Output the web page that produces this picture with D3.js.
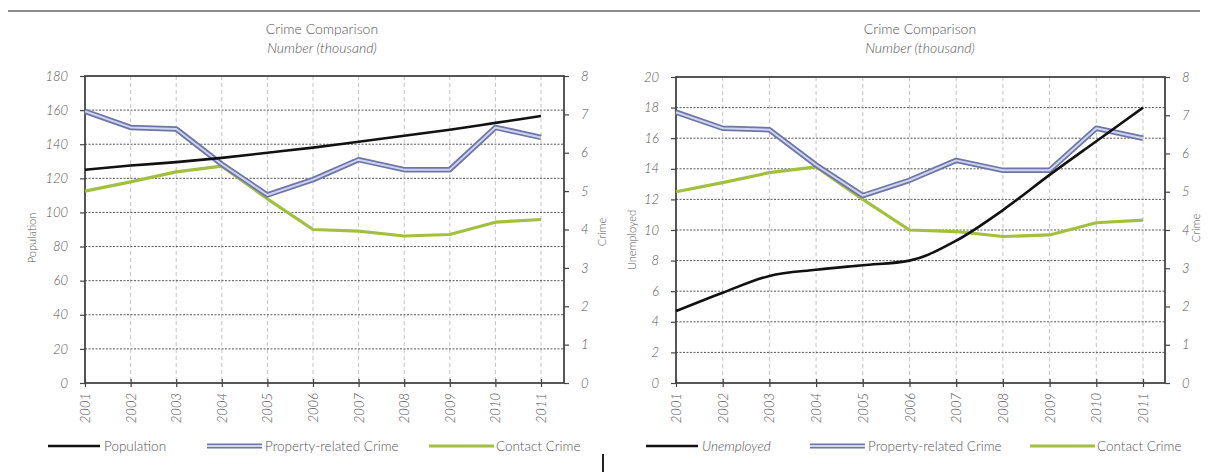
<!DOCTYPE html>
<html>
<head>
<meta charset="utf-8">
<script src="https://cdn.jsdelivr.net/npm/d3@7"></script>
<style>
  body { margin: 0; background: #fff; }
  svg text { font-family: Lato, "Open Sans", sans-serif; fill: #555; font-weight: 300; }
</style>
</head>
<body>
<div id="chart"></div>
<script>
// data (thousand)
var years = [2001, 2002, 2003, 2004, 2005, 2006, 2007, 2008, 2009, 2010, 2011];
var population = [125, 127.5, 129.5, 132, 135, 138, 141.5, 145, 148.5, 152.5, 156.5];
var unemployed = [4.7, 5.9, 7.0, 7.4, 7.7, 8.0, 9.3, 11.3, 13.6, 15.8, 18.0];
var propertyCrime = [7.08, 6.66, 6.62, 5.7, 4.9, 5.3, 5.82, 5.56, 5.56, 6.66, 6.4];
var contactCrime = [5.0, 5.24, 5.5, 5.65, 4.8, 4.0, 3.96, 3.83, 3.87, 4.19, 4.26];
var crimeTicks = [0, 1, 2, 3, 4, 5, 6, 7, 8];
var populationTicks = [0, 20, 40, 60, 80, 100, 120, 140, 160, 180];
var unemployedTicks = [0, 2, 4, 6, 8, 10, 12, 14, 16, 18, 20];

var W = 1208, H = 472;
var svg = d3.select("#chart").append("svg")
    .attr("width", W)
    .attr("height", H);

// top rule and bottom separator
svg.append("line").attr("x1", 8).attr("x2", 1200).attr("y1", 11).attr("y2", 11)
    .attr("stroke", "#8a8a8a").attr("stroke-width", 2);
svg.append("line").attr("x1", 603).attr("x2", 603).attr("y1", 454).attr("y2", 472)
    .attr("stroke", "#222").attr("stroke-width", 2);

function drawChart(cfg) {
  var g = svg.append("g");
  var x = d3.scaleLinear().domain([2001, 2011]).range([cfg.left, cfg.lastX]);
  var yL = d3.scaleLinear().domain([0, cfg.leftMax]).range([cfg.bottom, cfg.top]);
  var yR = d3.scaleLinear().domain([0, 8]).range([cfg.bottom, cfg.top]);

  // titles
  g.append("text").attr("x", cfg.titleX).attr("y", 34).attr("text-anchor", "middle")
    .style("font-size", "14px").text("Crime Comparison");
  g.append("text").attr("x", cfg.titleX).attr("y", 53).attr("text-anchor", "middle")
    .style("font-size", "14px").style("font-style", "italic").text("Number (thousand)");

  // vertical grid
  g.selectAll(".vgrid").data(years.slice(1)).enter().append("line")
    .attr("x1", d => x(d)).attr("x2", d => x(d))
    .attr("y1", cfg.top).attr("y2", cfg.bottom)
    .attr("stroke", "#c4c4c4").attr("stroke-dasharray", "4,3");

  // horizontal grid
  g.selectAll(".hgrid").data(cfg.leftTicks.slice(1, -1)).enter().append("line")
    .attr("x1", cfg.left).attr("x2", cfg.right)
    .attr("y1", d => yL(d)).attr("y2", d => yL(d))
    .attr("stroke", "#555").attr("stroke-dasharray", "2,1.5");

  // frame
  g.append("rect").attr("x", cfg.left).attr("y", cfg.top)
    .attr("width", cfg.right - cfg.left).attr("height", cfg.bottom - cfg.top)
    .attr("fill", "none").attr("stroke", "#444").attr("stroke-width", 1.8);

  // left axis
  var la = g.append("g").attr("transform", "translate(" + cfg.left + ",0)")
    .call(d3.axisLeft(yL).tickValues(cfg.leftTicks).tickSize(5).tickPadding(12));
  // right axis
  var ra = g.append("g").attr("transform", "translate(" + cfg.right + ",0)")
    .call(d3.axisRight(yR).tickValues(crimeTicks).tickSize(5).tickPadding(12));
  // bottom axis
  var ba = g.append("g").attr("transform", "translate(0," + cfg.bottom + ")")
    .call(d3.axisBottom(x).tickValues(years).tickFormat(d3.format("d")).tickSize(4));
  ba.selectAll(".tick line").attr("y1", -4);
  ba.selectAll(".tick text")
    .attr("transform", "translate(0,6) rotate(-90)")
    .attr("text-anchor", "end").attr("x", -4).attr("y", 0).attr("dy", "0.35em");

  [la, ra, ba].forEach(function (a) {
    a.select(".domain").remove();
    a.selectAll(".tick line").attr("stroke", "#444").attr("stroke-width", 1.2);
    a.selectAll(".tick text").style("font-size", "13px").style("font-style", "italic")
      .style("font-family", "Lato, sans-serif").attr("fill", "#555");
  });
  la.selectAll(".tick text").attr("text-anchor", "end");

  // axis titles
  g.append("text").attr("transform", "translate(" + cfg.leftTitleX + "," + cfg.leftTitleY + ") rotate(-90)")
    .attr("text-anchor", "middle").style("font-size", "11px").text(cfg.leftName);
  g.append("text").attr("transform", "translate(" + cfg.rightTitleX + "," + cfg.rightTitleY + ") rotate(-90)")
    .attr("text-anchor", "middle").style("font-size", "11px").text("Crime");

  // series
  var lineL = d3.line().x((d, i) => x(years[i])).y(d => yL(d)).curve(d3.curveMonotoneX);
  var lineR = d3.line().x((d, i) => x(years[i])).y(d => yR(d));

  g.append("path").datum(contactCrime).attr("d", lineR)
    .attr("fill", "none").attr("stroke", "#a2c03e").attr("stroke-width", 3.2)
    .attr("stroke-linejoin", "round");
  g.append("path").datum(propertyCrime).attr("d", lineR)
    .attr("fill", "none").attr("stroke", "#6d76a6").attr("stroke-width", 5.5)
    .attr("stroke-linejoin", "round");
  g.append("path").datum(propertyCrime).attr("d", lineR)
    .attr("fill", "none").attr("stroke", "#cfd4f2").attr("stroke-width", 2)
    .attr("stroke-linejoin", "round");
  g.append("path").datum(cfg.leftData).attr("d", lineL)
    .attr("fill", "none").attr("stroke", "#111").attr("stroke-width", 2.6);

  // legend
  var ly = 446;
  var lg = g.append("g");
  lg.append("line").attr("x1", cfg.leg[0]).attr("x2", cfg.leg[0] + 52).attr("y1", ly).attr("y2", ly)
    .attr("stroke", "#111").attr("stroke-width", 2.6);
  lg.append("text").attr("x", cfg.leg[0] + 56).attr("y", ly + 4.5).style("font-size", "13.5px")
    .style("font-style", cfg.leftItalic ? "italic" : "normal").text(cfg.leftName);
  lg.append("line").attr("x1", cfg.leg[1]).attr("x2", cfg.leg[1] + 55).attr("y1", ly).attr("y2", ly)
    .attr("stroke", "#6d76a6").attr("stroke-width", 5);
  lg.append("line").attr("x1", cfg.leg[1]).attr("x2", cfg.leg[1] + 55).attr("y1", ly).attr("y2", ly)
    .attr("stroke", "#cfd4f2").attr("stroke-width", 2);
  lg.append("text").attr("x", cfg.leg[1] + 58).attr("y", ly + 4.5).style("font-size", "13.5px")
    .text("Property-related Crime");
  lg.append("line").attr("x1", cfg.leg[2]).attr("x2", cfg.leg[2] + 65).attr("y1", ly).attr("y2", ly)
    .attr("stroke", "#a2c03e").attr("stroke-width", 3);
  lg.append("text").attr("x", cfg.leg[2] + 67).attr("y", ly + 4.5).style("font-size", "13.5px")
    .text("Contact Crime");
}

drawChart({
  left: 85, lastX: 541, right: 564, top: 76, bottom: 383,
  leftMax: 180, leftTicks: populationTicks, leftData: population,
  leftName: "Population", leftItalic: false,
  titleX: 322, leftTitleX: 36, leftTitleY: 238, rightTitleX: 606, rightTitleY: 232,
  leg: [48, 207, 429]
});
drawChart({
  left: 676, lastX: 1143, right: 1165, top: 77, bottom: 383,
  leftMax: 20, leftTicks: unemployedTicks, leftData: unemployed,
  leftName: "Unemployed", leftItalic: true,
  titleX: 920, leftTitleX: 636, leftTitleY: 240, rightTitleX: 1200, rightTitleY: 228,
  leg: [646, 810, 1030]
});
</script>
</body>
</html>
